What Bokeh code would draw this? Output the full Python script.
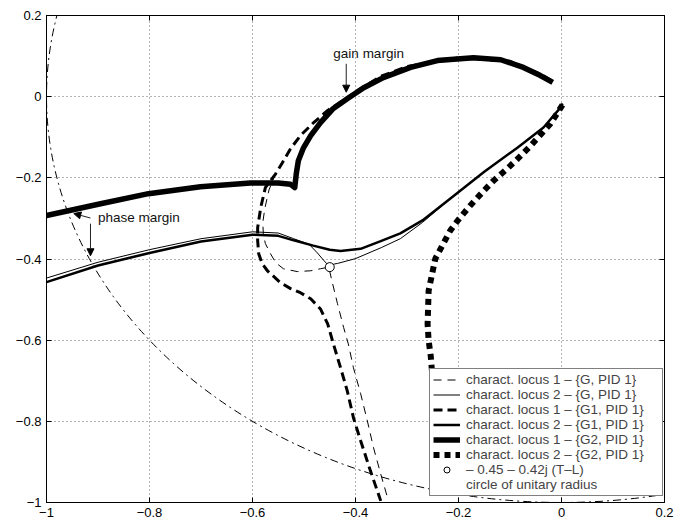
from bokeh.plotting import figure
from bokeh.models import (Range1d, FixedTicker, LinearAxis, Legend, LegendItem,
                          Arrow, NormalHead, Label)
from bokeh.embed import file_html
from bokeh.resources import INLINE

# ---------------- data ----------------
ticks = [-1.0, -0.8, -0.6, -0.4, -0.2, 0.0, 0.2]
tick_labels = ["\u22121", "\u22120.8", "\u22120.6", "\u22120.4", "\u22120.2", "0", "0.2"]

# characteristic locus 1 - {G, PID 1}  (thin dashed)
g_l1_x = [-0.02, -0.04, -0.10, -0.20, -0.30, -0.351, -0.396, -0.425, -0.454, -0.483, -0.507,
          -0.526, -0.542, -0.556, -0.568, -0.576, -0.580, -0.579, -0.575, -0.565, -0.555,
          -0.540, -0.513, -0.487, -0.468, -0.452, -0.445, -0.435, -0.423, -0.414, -0.404,
          -0.390, -0.377, -0.365, -0.351, -0.336]
g_l1_y = [0.040, 0.055, 0.087, 0.096, 0.074, 0.050, 0.015, -0.010, -0.034, -0.066, -0.096,
          -0.128, -0.163, -0.192, -0.230, -0.275, -0.310, -0.338, -0.362, -0.387, -0.409,
          -0.424, -0.431, -0.429, -0.424, -0.420, -0.458, -0.510, -0.569, -0.609, -0.668,
          -0.732, -0.799, -0.865, -0.930, -0.996]

# characteristic locus 2 - {G, PID 1}  (thin solid)
g_l2_x = [-1.0, -0.90, -0.80, -0.70, -0.60, -0.55, -0.52, -0.49, -0.474, -0.464, -0.452,
          -0.44, -0.435, -0.40, -0.35, -0.313, -0.27, -0.22, -0.15, -0.085, -0.035, -0.002, 0.002]
g_l2_y = [-0.447, -0.408, -0.377, -0.350, -0.333, -0.336, -0.350, -0.364, -0.385, -0.400,
          -0.417, -0.412, -0.411, -0.399, -0.372, -0.350, -0.310, -0.256, -0.185, -0.125,
          -0.076, -0.027, -0.017]

# characteristic locus 1 - {G1, PID 1}  (medium dashed)
g1_l1_x = [-0.02, -0.04, -0.10, -0.20, -0.30, -0.351, -0.396, -0.425, -0.454, -0.483, -0.507,
           -0.526, -0.542, -0.555, -0.575, -0.584, -0.590, -0.590, -0.588, -0.581, -0.571,
           -0.546, -0.526, -0.507, -0.487, -0.468, -0.454, -0.443, -0.429, -0.416, -0.404,
           -0.390, -0.371, -0.351]
g1_l1_y = [0.040, 0.055, 0.087, 0.096, 0.074, 0.050, 0.015, -0.010, -0.034, -0.066, -0.096,
           -0.128, -0.163, -0.190, -0.224, -0.273, -0.323, -0.355, -0.387, -0.412, -0.429,
           -0.458, -0.473, -0.483, -0.498, -0.523, -0.560, -0.609, -0.668, -0.725, -0.791,
           -0.848, -0.922, -0.996]

# characteristic locus 2 - {G1, PID 1}  (medium solid)
g1_l2_x = [-1.0, -0.90, -0.80, -0.70, -0.60, -0.55, -0.52, -0.482, -0.45, -0.429, -0.39,
           -0.351, -0.313, -0.27, -0.22, -0.15, -0.085, -0.035, -0.002, 0.002]
g1_l2_y = [-0.457, -0.416, -0.385, -0.357, -0.340, -0.343, -0.354, -0.367, -0.377, -0.380,
           -0.375, -0.356, -0.337, -0.305, -0.255, -0.185, -0.125, -0.076, -0.027, -0.017]

# characteristic locus 1 - {G2, PID 1}  (thick solid)
g2_l1_x = [-1.0, -0.895, -0.802, -0.701, -0.604, -0.55, -0.526, -0.518, -0.515, -0.511,
           -0.501, -0.487, -0.468, -0.443, -0.416, -0.384, -0.346, -0.293, -0.241, -0.171,
           -0.118, -0.074, -0.041, -0.017]
g2_l1_y = [-0.293, -0.264, -0.239, -0.222, -0.213, -0.213, -0.216, -0.224, -0.190, -0.158,
           -0.126, -0.096, -0.064, -0.029, -0.005, 0.022, 0.047, 0.072, 0.089, 0.096,
           0.091, 0.072, 0.052, 0.035]

# characteristic locus 2 - {G2, PID 1}  (thick dashed)
g2_l2_x = [0.002, -0.021, -0.060, -0.085, -0.105, -0.132, -0.151, -0.177, -0.202, -0.216,
           -0.245, -0.258, -0.260, -0.258, -0.254, -0.250, -0.246]
g2_l2_y = [-0.020, -0.066, -0.121, -0.153, -0.177, -0.207, -0.232, -0.268, -0.306, -0.330,
           -0.399, -0.478, -0.560, -0.601, -0.638, -0.700, -0.800]

# point  -0.45 - 0.42j (T-L)
tl_x = [-0.45]
tl_y = [-0.42]

# circle of unitary radius (centre, diameter)
circ_x = [0.0]
circ_y = [0.0]
circ_d = [2.0]

FONT = "Liberation Sans"

p = figure(width=686, height=523, output_backend="svg", toolbar_location=None,
           x_range=Range1d(-1, 0.2), y_range=Range1d(-1, 0.2),
           min_border_left=46, min_border_right=22, min_border_top=15, min_border_bottom=21)
p.background_fill_color = "white"
p.border_fill_color = "white"
p.outline_line_color = "black"
p.outline_line_width = 1

for ax in (p.xaxis[0], p.yaxis[0]):
    ax.ticker = FixedTicker(ticks=ticks)
    ax.major_label_overrides = {t: l for t, l in zip(ticks, tick_labels)}
    ax.major_tick_in = 5
    ax.major_tick_out = 0
    ax.minor_tick_in = 0
    ax.minor_tick_out = 0
    ax.axis_line_color = "black"
    ax.major_tick_line_color = "black"
    ax.major_label_text_font = FONT
    ax.major_label_text_font_size = "13px"
    ax.major_label_text_color = "black"
p.xaxis.major_label_standoff = 5
p.yaxis.major_label_standoff = 5

for side in ("right", "above"):
    ax = LinearAxis(ticker=FixedTicker(ticks=ticks), major_tick_in=5, major_tick_out=0,
                    minor_tick_in=0, minor_tick_out=0,
                    major_label_overrides={t: "" for t in ticks},
                    major_label_text_font_size="1px",
                    major_label_standoff=0, axis_line_color="black")
    p.add_layout(ax, side)

for g in (p.xgrid[0], p.ygrid[0]):
    g.ticker = FixedTicker(ticks=ticks)
    g.grid_line_color = "#666666"
    g.grid_line_dash = "1 3"
    g.grid_line_width = 1

# unit circle
p.ellipse(x=circ_x, y=circ_y, width=circ_d, height=circ_d, fill_alpha=0,
          line_color="black", line_width=1, line_dash="8 4 2 4")
r_circ_leg = p.line(x=[], y=[], line_color="black", line_width=1, line_dash="8 4 2 4")

r1 = p.line(g_l1_x, g_l1_y, line_color="black", line_width=1, line_dash="8 6")
r2 = p.line(g_l2_x, g_l2_y, line_color="black", line_width=1)
r3 = p.line(g1_l1_x, g1_l1_y, line_color="black", line_width=3, line_dash="9 5")
r4 = p.line(g1_l2_x, g1_l2_y, line_color="black", line_width=2.5)
r5 = p.line(g2_l1_x, g2_l1_y, line_color="black", line_width=5.5, line_join="round")
r6 = p.line(g2_l2_x, g2_l2_y, line_color="black", line_width=6, line_dash="6 5")
r7 = p.scatter(tl_x, tl_y, marker="circle", size=9, fill_color="white",
               line_color="black", line_width=1)

# annotations
p.add_layout(Label(x=-0.443, y=0.106, text="gain margin", text_font=FONT,
                   text_font_size="13.5px", text_baseline="middle", text_color="#111"))
p.add_layout(Arrow(x_start=-0.418, y_start=0.081, x_end=-0.418, y_end=0.011,
                   line_color="#222", line_width=1,
                   end=NormalHead(size=7, fill_color="black", line_color="black")))
p.add_layout(Label(x=-0.900, y=-0.297, text="phase margin", text_font=FONT,
                   text_font_size="13.5px", text_baseline="middle", text_color="#111"))
p.add_layout(Arrow(x_start=-0.9146, y_start=-0.299, x_end=-0.947, y_end=-0.288,
                   line_color="#222", line_width=1,
                   end=NormalHead(size=7, fill_color="black", line_color="black")))
p.add_layout(Arrow(x_start=-0.9146, y_start=-0.313, x_end=-0.9146, y_end=-0.392,
                   line_color="#222", line_width=1,
                   end=NormalHead(size=7, fill_color="black", line_color="black")))

legend = Legend(items=[
    LegendItem(label="charact. locus 1 \u2013 {G, PID 1}", renderers=[r1]),
    LegendItem(label="charact. locus 2 \u2013 {G, PID 1}", renderers=[r2]),
    LegendItem(label="charact. locus 1 \u2013 {G1, PID 1}", renderers=[r3]),
    LegendItem(label="charact. locus 2 \u2013 {G1, PID 1}", renderers=[r4]),
    LegendItem(label="charact. locus 1 \u2013 {G2, PID 1}", renderers=[r5]),
    LegendItem(label="charact. locus 2 \u2013 {G2, PID 1}", renderers=[r6]),
    LegendItem(label="\u2013 0.45 \u2013 0.42j (T\u2013L)", renderers=[r7]),
    LegendItem(label="circle of unitary radius", renderers=[r_circ_leg]),
], location=(383, 6))
legend.label_text_font = FONT
legend.label_text_font_size = "13.5px"
legend.label_text_line_height = 1.0
legend.label_height = 15
legend.label_width = 193
legend.glyph_height = 15
legend.glyph_width = 27
legend.label_standoff = 6
legend.spacing = 0
legend.padding = 3
legend.margin = 0
legend.border_line_color = "black"
legend.border_line_width = 1
legend.background_fill_color = "white"
legend.background_fill_alpha = 1
p.add_layout(legend)

open("out.html", "w").write(file_html(p, INLINE))
